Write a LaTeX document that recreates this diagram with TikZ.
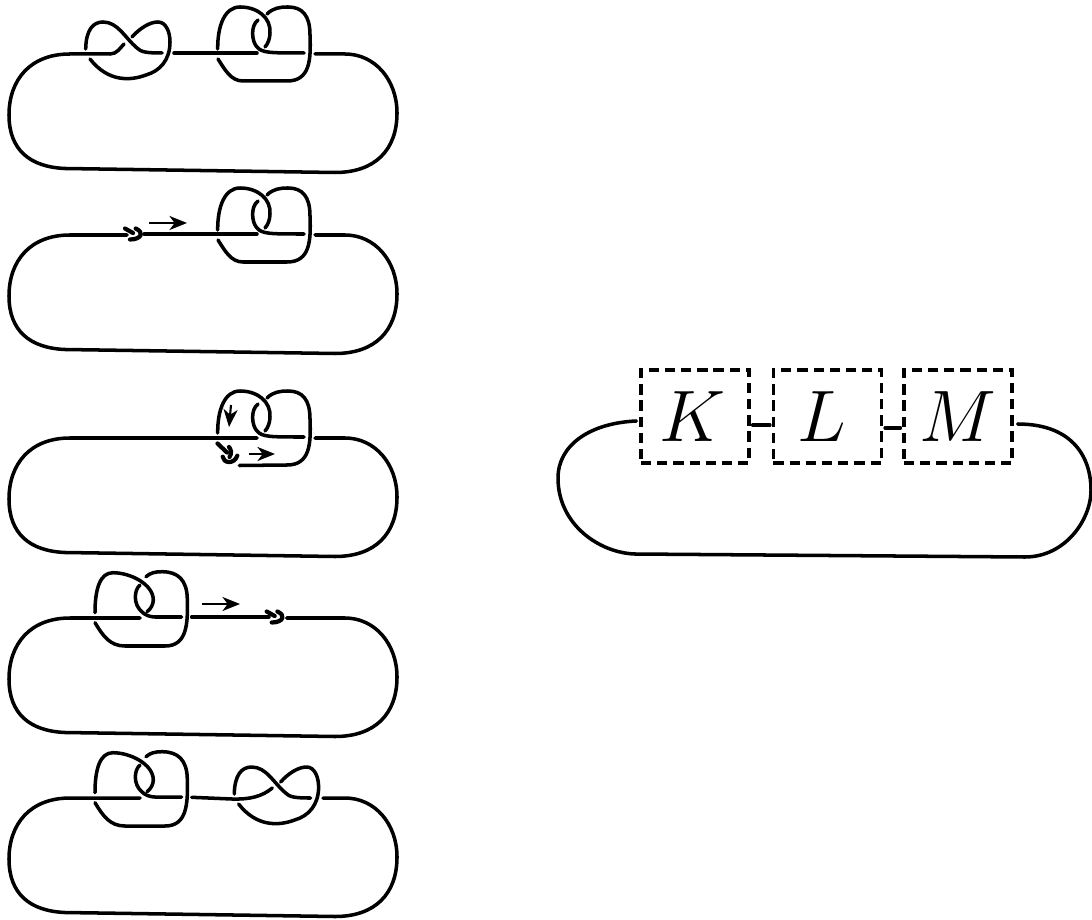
\documentclass[tikz,border=0pt]{standalone}
\usetikzlibrary{calc,arrows.meta}
\tikzset{
 strand/.style={line width=1pt,line cap=round,line join=round},
 hook/.style={line width=1.2pt,line cap=round,line join=round},
 flow/.style={line width=0.6pt,-{Stealth[length=5pt,width=4pt,inset=1.5pt]}},
 tangle/.style={draw,line width=0.9pt,dash pattern=on 2.9pt off 1.7pt,minimum width=1.08cm,minimum height=0.93cm,inner sep=0pt,font=\fontsize{20.74}{24}\selectfont},
}
% crossing-eight tangle, row-1 coordinates
\newcommand{\trefoilpart}{%
 \draw[strand] (85.7,49) .. controls (86,30) and (93,22) .. (103,22) .. controls (118,22) and (125,38) .. (137,48) .. controls (141,52) and (146,53) .. (162,53);
 \draw[strand] (132,37) .. controls (140,28) and (150,22) .. (158,22) .. controls (166,22) and (170,32) .. (170,42) .. controls (170,60) and (160,71) .. (146,75) .. controls (130,81) and (108,82) .. (90,59);
}
% figure-eight tangle, rows 1-3; #1 = how the last strand ends
\newcommand{\eightpart}[1]{%
 \draw[strand] (217.7,49) .. controls (217.5,25) and (225,7) .. (240,7) .. controls (258,7) and (271,18) .. (270,33) .. controls (270,38) and (268,44) .. (265,47);
 \draw[strand] (258,20) .. controls (250,26) and (252,42) .. (257,47) .. controls (262,53) and (270,53) .. (304,53);
 \draw[strand] (267,14) .. controls (273,8) and (280,7) .. (288,7) .. controls (302,7) and (310,15) .. (310,35) .. controls (311,60) and (310,81) .. (287,81) #1;
}
% figure-eight tangle, rows 4-5
\newcommand{\eightwide}{%
 \draw[strand] (95,48.7) .. controls (95,25) and (100,8.7) .. (113,8.7) .. controls (130,8.7) and (153.3,20) .. (153.3,36) .. controls (153.3,40) and (151,45) .. (147,47.7);
 \draw[strand] (140,21) .. controls (134,26) and (133,40) .. (141.7,47.7) .. controls (145,51) and (150,53) .. (155,53) -- (181.7,53);
 \draw[strand] (146,12.7) .. controls (150,9) and (155,7.7) .. (162,7.7) .. controls (178,7.7) and (187,16) .. (187.3,35) .. controls (188,60) and (187,82) .. (165,82) -- (125,82) .. controls (110,82) and (103,72) .. (95,58.7);
}
\newcommand{\clasp}{%
 \draw[hook] (125,47.5) -- (133,52);
 \draw[hook] (135.7,47.5) .. controls (140,49.5) and (141.5,52) .. (140.7,54) .. controls (139.5,57) and (135,58.5) .. (130,58.5);
}
\newcommand{\outerloop}[2]{%
 \draw[strand] (#1,54) -- (70,54) .. controls (30,54) and (9,80) .. (9,115) .. controls (9,150) and (30,167) .. (65,168.5) -- (335,172.5) .. controls (375,172.5) and (397,150) .. (397,113) .. controls (397,80) and (375,54) .. (345,54) -- (#2,54);
}
\begin{document}
\begin{tikzpicture}[x=0.01cm,y=-0.01cm]
\useasboundingbox (0,0) rectangle (1092,919);
% row 1
\outerloop{110}{315}
\draw[strand] (110,54) .. controls (117,54) and (120,48) .. (124,44);
\trefoilpart
\draw[strand] (174,53) -- (257,53);
\eightpart{-- (243,81) .. controls (231,81) and (225,70) .. (218,59)}
% row 2
\begin{scope}[shift={(0,181)}]
 \outerloop{127}{315}
 \eightpart{-- (243,81) .. controls (231,81) and (225,70) .. (218,59)}
 \draw[strand] (144,53) -- (257,53);
 \clasp
 \draw[flow] (149,42) -- (187,42);
\end{scope}
% row 3
\begin{scope}[shift={(0,384)}]
 \outerloop{257}{315}
 \eightpart{-- (239.3,81.5)}
 \draw[hook] (217.5,59.5) -- (227,68.5);
 \draw[hook] (229,63) .. controls (231,65) and (232,70) .. (229.5,73);
 \draw[hook] (222.7,72.7) .. controls (223,79) and (234,81) .. (237.3,71.7);
 \draw[flow] (249,70) -- (275,70);
 \draw[flow] (231,21) -- (229,43);
\end{scope}
% row 4
\begin{scope}[shift={(0,564)}]
 \outerloop{140}{286.7}
 \eightwide
 \draw[strand] (191.7,53) -- (269,53);
 \begin{scope}[shift={(141.7,0)}]\clasp\end{scope}
 \draw[flow] (202,40) -- (240,40);
\end{scope}
% row 5
\begin{scope}[shift={(0,744)}]
 \outerloop{140}{323}
 \eightwide
 \begin{scope}[shift={(148.6,1)}]\trefoilpart\end{scope}
 \draw[strand] (191.7,53.3) -- (232,55) .. controls (250,55.5) and (262,52.5) .. (272.3,44);
\end{scope}
% right diagram
\node[tangle] (k) at (695,416.5) {\hspace{-1.2pt}\raisebox{-0.6pt}{$K$}};
\node[tangle] (l) at (827.5,416.5) {\hspace{-3pt}\raisebox{-0.6pt}{$L$}};
\node[tangle] (m) at (958,416.5) {\raisebox{-0.6pt}{$M$}};
\draw[strand] ($(k.east)+(2,8.5)$) -- ($(l.west)+(-2,8.5)$);
\draw[strand] ($(l.east)+(2,11.5)$) -- ($(m.west)+(-2,11.5)$);
\draw[strand] ($(k.west)+(-3,4.5)$) .. controls (590,423) and (558,445) .. (558,478) .. controls (558,525) and (600,553) .. (635,554) -- (1025,557) .. controls (1065,557) and (1091,520) .. (1091,490) .. controls (1091,460) and (1075,424) .. ($(m.east)+(4,7.5)$);
\end{tikzpicture}
\end{document}
